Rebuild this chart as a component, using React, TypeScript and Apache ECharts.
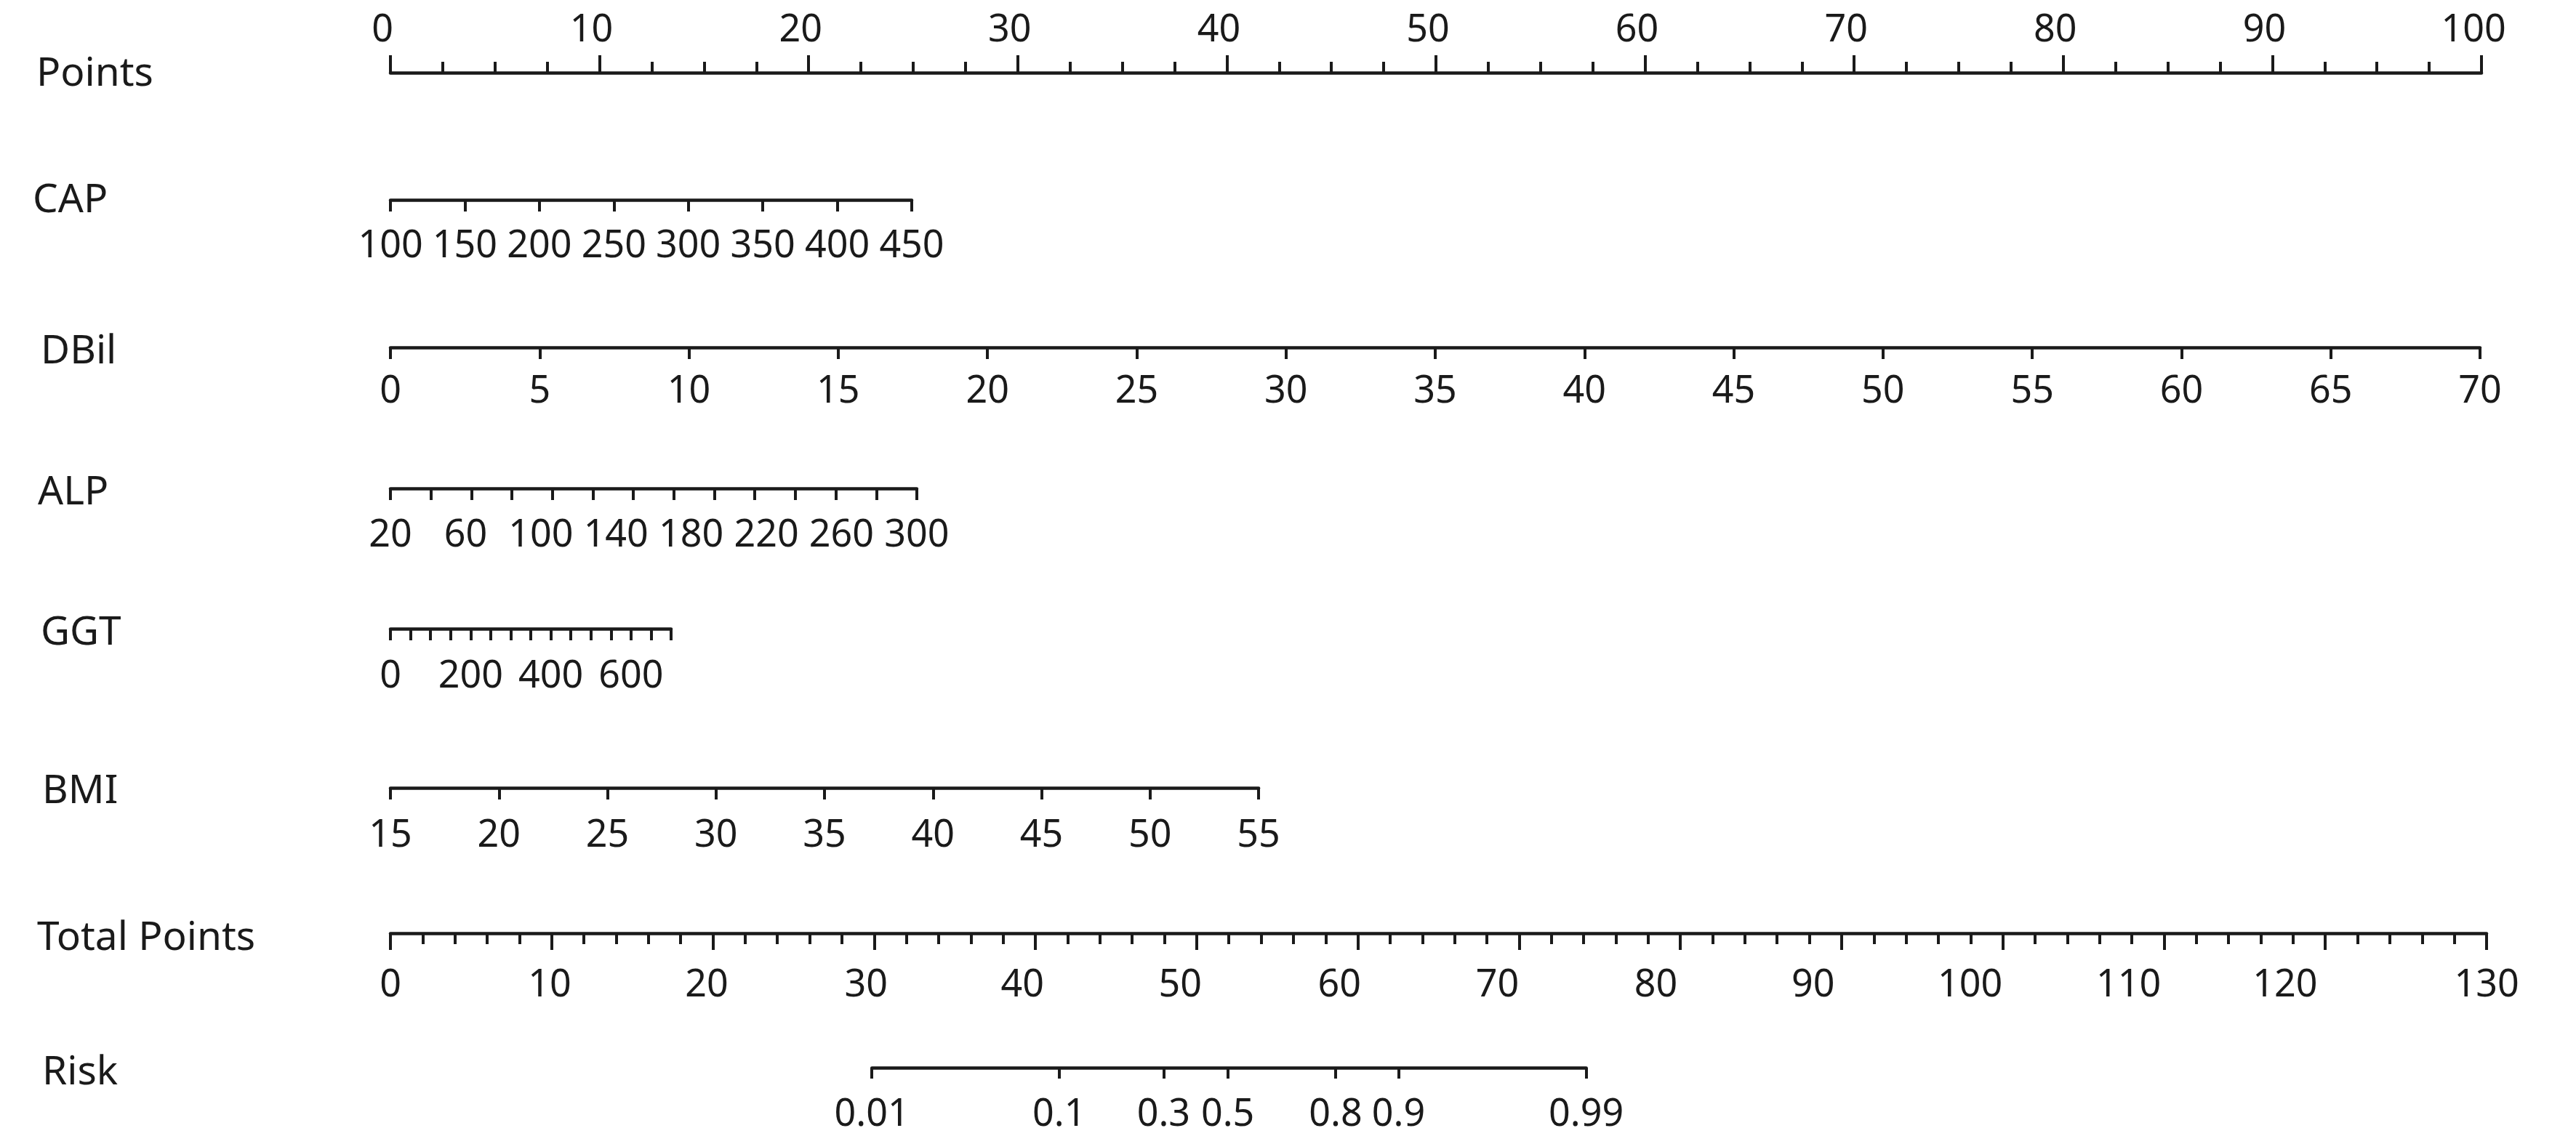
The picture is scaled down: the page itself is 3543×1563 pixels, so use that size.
import React, { useEffect, useRef } from "react";
import * as echarts from "echarts";

// ---------------- data ----------------
const FONT = "Noto Sans";
const INK = "#1a1a1a";

// Points scale (top)
const pointsMin = 0;
const pointsMax = 100;
const pointsStep = 10;

// Predictor scales: value range and the points reached at the max value
const variableNames = ["CAP", "DBil", "ALP", "GGT", "BMI"];
const variableMin = [100, 0, 20, 0, 15];
const variableMax = [450, 70, 300, 700, 55];
const variablePointsAtMax = [24.93, 99.93, 25.17, 13.42, 41.52];
const variableTickStep = [50, 5, 0, 50, 5];

// ALP ticks (evenly spaced between 20 and 300 in the picture) and labels
const alpTicks = [20, 41.5, 63.1, 84.6, 106.2, 127.7, 149.2, 170.8, 192.3, 213.8, 235.4, 256.9, 278.5, 300];
const alpLabels = [20, 60, 100, 140, 180, 220, 260, 300];
// GGT labels
const ggtLabels = [0, 200, 400, 600];

// Total points scale
const totalMin = 0;
const totalMax = 130;
const totalStep = 10;
const totalPointsLabels = ["0", "10", "20", "30", "40", "50", "60", "70", "80", "90", "100", "110", "120", "130"];
const totalPointsLabelPos = [0, 9.88, 19.62, 29.5, 39.2, 48.98, 58.86, 68.65, 78.48, 88.23, 97.97, 107.8, 117.5, 130];

// Risk scale, positioned on the total-points scale
const riskLabels = ["0.01", "0.1", "0.3", "0.5", "0.8", "0.9", "0.99"];
const riskTotalPoints = [29.86, 41.47, 47.95, 51.93, 58.62, 62.52, 74.16];

// ---------------- layout ----------------
const X0 = 537;
const POINTS_W = 2876;
const TOTAL_W = 2883;
const rowTitles = ["Points", "CAP", "DBil", "ALP", "GGT", "BMI", "Total Points", "Risk"];
const rowLineY = [99, 275, 478, 672, 865, 1084, 1284, 1469];
const titleX = [50, 45, 56, 52, 56, 58, 51, 58];
const titleY = [96, 270, 478, 672, 865, 1083, 1285, 1470];
const labelMargin = [43, 32, 29, 33, 34, 34, 40, 33];
const FS = 52;
const TITLE_FS = 55;

function App() {
  const ref = useRef<HTMLDivElement>(null);

  useEffect(() => {
    if (!ref.current) return;
    const chart = echarts.init(ref.current, null, { renderer: "svg" });

    const grids: any[] = [];
    const xAxes: any[] = [];
    const yAxes: any[] = [];
    const series: any[] = [];

    const baseLabel = (i: number) => ({
      fontFamily: FONT,
      fontSize: FS,
      color: INK,
      margin: labelMargin[i],
    });
    const lineStyle = { color: INK, width: 4.5 };
    const tickStyle = { color: INK, width: 4 };

    const addRow = (i: number, left: number, width: number, axis: any, top: boolean) => {
      const y = rowLineY[i];
      grids.push({ left, width, top: top ? y : y - 1, height: 1, outerBoundsMode: "none" });
      xAxes.push({
        gridIndex: i,
        type: "value",
        position: top ? "top" : "bottom",
        splitLine: { show: false },
        axisLine: { show: true, lineStyle },
        ...axis,
      });
      yAxes.push({ gridIndex: i, type: "value", show: false, min: 0, max: 1 });
      series.push({
        type: "scatter",
        xAxisIndex: i,
        yAxisIndex: i,
        symbolSize: 0,
        silent: true,
        data: [[axis.min, 0.5], [axis.max, 0.5]],
      });
    };

    const pxPerPoint = POINTS_W / (pointsMax - pointsMin);
    const pxPerTotal = TOTAL_W / (totalMax - totalMin);

    // Points
    addRow(0, X0, POINTS_W, {
      min: pointsMin,
      max: pointsMax,
      interval: pointsStep,
      axisTick: { show: true, length: 24, lineStyle: tickStyle },
      minorTick: { show: true, splitNumber: 4, length: 15, lineStyle: tickStyle },
      axisLabel: { ...baseLabel(0), lineHeight: 40, padding: [0, 22, 0, 0] },
    }, true);

    // Predictors
    variableNames.forEach((name, k) => {
      const i = k + 1;
      const width = variablePointsAtMax[k] * pxPerPoint;
      const axis: any = {
        min: variableMin[k],
        max: variableMax[k],
        axisTick: { show: true, length: 16, lineStyle: tickStyle },
        axisLabel: baseLabel(i),
      };
      if (name === "ALP") {
        axis.axisTick.customValues = alpTicks;
        axis.axisLabel = { ...baseLabel(i), customValues: alpLabels };
      } else if (name === "GGT") {
        axis.interval = variableTickStep[k];
        axis.axisLabel = { ...baseLabel(i), customValues: ggtLabels };
      } else {
        axis.interval = variableTickStep[k];
      }
      addRow(i, X0, width, axis, false);
    });

    // Total points
    addRow(6, X0, TOTAL_W, {
      min: totalMin,
      max: totalMax,
      interval: totalStep,
      axisTick: { show: true, length: 23, lineStyle: tickStyle },
      minorTick: { show: true, splitNumber: 5, length: 15, lineStyle: tickStyle },
      axisLabel: {
        ...baseLabel(6),
        customValues: totalPointsLabelPos,
        formatter: (v: number) => {
          const j = totalPointsLabelPos.findIndex((p) => Math.abs(p - v) < 1e-6);
          return j >= 0 ? totalPointsLabels[j] : "";
        },
      },
    }, false);

    // Risk
    const rMin = riskTotalPoints[0];
    const rMax = riskTotalPoints[riskTotalPoints.length - 1];
    addRow(7, X0 + rMin * pxPerTotal, (rMax - rMin) * pxPerTotal, {
      min: rMin,
      max: rMax,
      axisTick: { show: true, length: 15, lineStyle: tickStyle, customValues: riskTotalPoints },
      axisLabel: {
        ...baseLabel(7),
        customValues: riskTotalPoints,
        formatter: (v: number) => {
          const j = riskTotalPoints.findIndex((p) => Math.abs(p - v) < 1e-6);
          return j >= 0 ? riskLabels[j] : "";
        },
      },
    }, false);

    const graphic = rowTitles.map((t, i) => ({
      type: "text",
      x: titleX[i],
      y: titleY[i],
      style: {
        text: t,
        fontFamily: FONT,
        fontSize: TITLE_FS,
        fill: INK,
        verticalAlign: "middle",
        align: "left",
      },
    }));

    chart.setOption({
      animation: false,
      backgroundColor: "#ffffff",
      grid: grids,
      xAxis: xAxes,
      yAxis: yAxes,
      series,
      graphic,
    });

    return () => chart.dispose();
  }, []);

  return (
    <div
      ref={ref}
      style={{ position: "fixed", left: 0, top: 0, width: 3543, height: 1563, background: "#fff" }}
    />
  );
}

export default App;
